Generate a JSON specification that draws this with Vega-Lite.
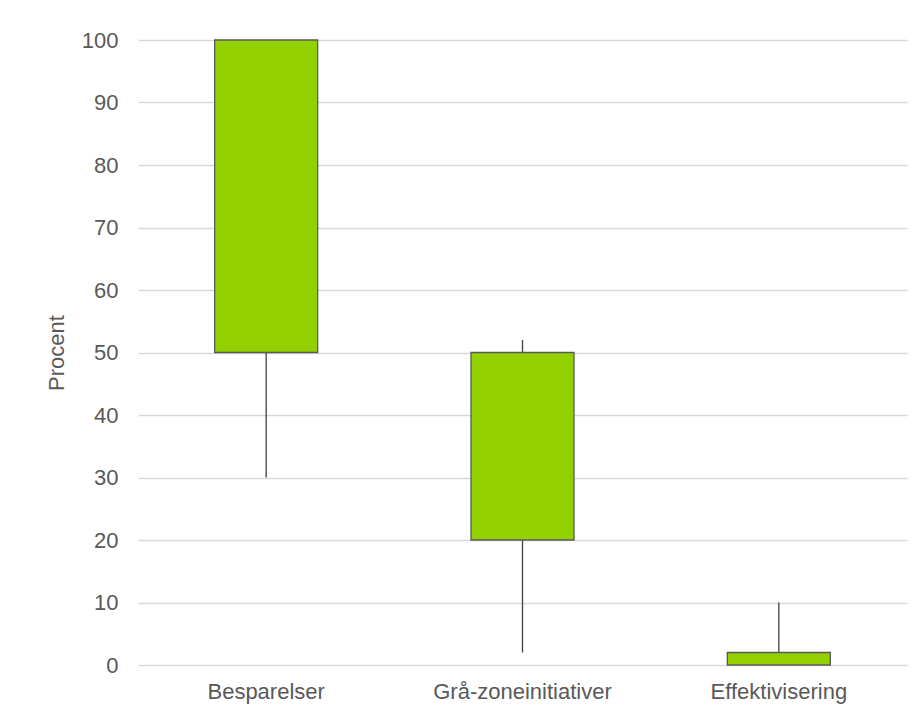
{
  "$schema": "https://vega.github.io/schema/vega-lite/v6.json",
  "width": 769,
  "height": 625,
  "autosize": {"type": "none"},
  "padding": {"left": 138, "top": 40, "right": 16, "bottom": 50},
  "background": "white",
  "config": {
    "view": {"stroke": null},
    "font": "Liberation Sans",
    "axis": {"labelFont": "Liberation Sans", "titleFont": "Liberation Sans", "labelColor": "#595959", "titleColor": "#595959", "labelFontSize": 22, "titleFontSize": 22, "titleFontWeight": "normal"}
  },
  "data": {"values": [
    {"kategori": "Besparelser", "min": 30, "q1": 50, "q3": 100, "max": 100},
    {"kategori": "Grå-zoneinitiativer", "min": 2, "q1": 20, "q3": 50, "max": 52},
    {"kategori": "Effektivisering", "min": 0, "q1": 0, "q3": 2, "max": 10}
  ]},
  "encoding": {
    "x": {"field": "kategori", "type": "nominal", "sort": null, "title": null,
      "scale": {"paddingInner": 0, "paddingOuter": 0},
      "axis": {"labelAngle": 0, "ticks": false, "domain": false, "labelPadding": 16}}
  },
  "layer": [
    {
      "mark": {"type": "rule", "color": "#404040", "strokeWidth": 1.3},
      "encoding": {
        "y": {"field": "min", "type": "quantitative", "title": "Procent",
          "scale": {"domain": [0, 100]},
          "axis": {"values": [0,10,20,30,40,50,60,70,80,90,100], "labelOverlap": false, "grid": true, "gridColor": "#d9d9d9", "gridWidth": 1.3, "domain": false, "ticks": false, "labelPadding": 20, "titlePadding": 13}},
        "y2": {"field": "max"}
      }
    },
    {
      "mark": {"type": "bar", "size": 103, "color": "#92D000", "stroke": "#595959", "strokeWidth": 1.3},
      "encoding": {
        "y": {"field": "q1", "type": "quantitative", "title": "Procent",
          "scale": {"domain": [0, 100]},
          "axis": {"values": [0,10,20,30,40,50,60,70,80,90,100], "labelOverlap": false, "grid": true, "gridColor": "#d9d9d9", "gridWidth": 1.3, "domain": false, "ticks": false, "labelPadding": 20, "titlePadding": 13}},
        "y2": {"field": "q3"}
      }
    }
  ]
}
